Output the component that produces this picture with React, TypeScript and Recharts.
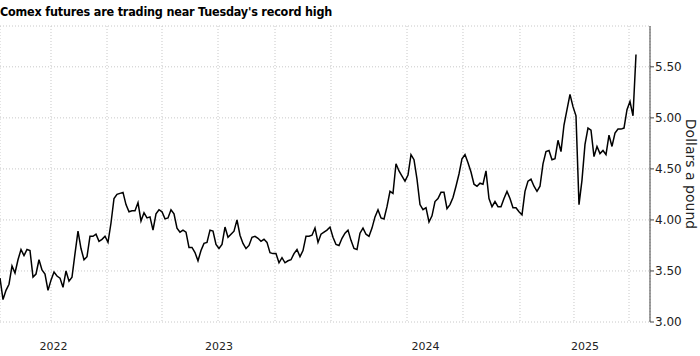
import React from 'react';
import { LineChart, Line, XAxis, YAxis, CartesianGrid } from 'recharts';

// Comex copper, dollars a pound, one reading per sample step
const prices = [
  3.43, 3.22, 3.31, 3.37, 3.55, 3.48, 3.61, 3.71, 3.65, 3.71, 3.70, 3.44, 3.47, 3.61, 3.51, 3.47,
  3.31, 3.41, 3.49, 3.45, 3.43, 3.34, 3.50, 3.40, 3.44, 3.67, 3.89, 3.72, 3.61, 3.64, 3.84, 3.84,
  3.86, 3.79, 3.81, 3.84, 3.78, 3.97, 4.21, 4.25, 4.26, 4.27, 4.15, 4.08, 4.09, 4.09, 4.17, 3.99,
  4.07, 4.02, 4.03, 3.90, 4.06, 4.10, 4.08, 4.01, 4.02, 4.10, 4.06, 3.92, 3.88, 3.90, 3.88, 3.73,
  3.73, 3.68, 3.60, 3.70, 3.77, 3.78, 3.90, 3.89, 3.76, 3.72, 3.76, 3.93, 3.83, 3.86, 3.89, 4.00,
  3.85, 3.77, 3.72, 3.75, 3.83, 3.84, 3.82, 3.79, 3.81, 3.78, 3.68, 3.67, 3.67, 3.58, 3.63, 3.58,
  3.60, 3.61, 3.67, 3.71, 3.64, 3.70, 3.84, 3.84, 3.85, 3.92, 3.78, 3.86, 3.88, 3.90, 3.93, 3.83,
  3.76, 3.75, 3.82, 3.87, 3.90, 3.80, 3.72, 3.71, 3.87, 3.92, 3.86, 3.84, 3.92, 4.03, 4.10, 4.02,
  4.01, 4.13, 4.28, 4.26, 4.55, 4.48, 4.43, 4.38, 4.44, 4.64, 4.59, 4.40, 4.15, 4.10, 4.12, 3.98,
  4.04, 4.18, 4.21, 4.27, 4.27, 4.11, 4.15, 4.22, 4.33, 4.45, 4.60, 4.64, 4.56, 4.47, 4.35, 4.33,
  4.36, 4.35, 4.48, 4.21, 4.13, 4.18, 4.13, 4.13, 4.21, 4.28, 4.21, 4.12, 4.12, 4.08, 4.05, 4.28,
  4.38, 4.40, 4.33, 4.28, 4.33, 4.55, 4.67, 4.68, 4.59, 4.60, 4.78, 4.67, 4.93, 5.08, 5.23, 5.11,
  5.02, 4.15, 4.39, 4.74, 4.90, 4.88, 4.62, 4.72, 4.65, 4.68, 4.64, 4.83, 4.72, 4.85, 4.89, 4.89,
  4.90, 5.08, 5.16, 5.02, 5.62,
];

// quarter starts (Oct 2022 .. Jul 2025) in sample units
const quarterStarts = [17, 35.67, 54, 72.67, 91.67, 110.33, 128, 135.67, 154.33, 173.33, 191.33, 209.67];
// Jan 2023, Jan 2024, Jan 2025
const yearStarts = [35.67, 110.33, 173.33];
const years = ['2022', '2023', '2024', '2025'];
const axisEnd = 216.67;

const yMajor = [3, 3.5, 4, 4.5, 5, 5.5];
const yMinor = [3.25, 3.75, 4.25, 4.75, 5.25, 5.75];

const data = prices.map((v, i) => ({ i, v }));

const bounds = [0, ...yearStarts, axisEnd];
const yearCenters = years.map((_, k) => (bounds[k] + bounds[k + 1]) / 2);

const font = '"DejaVu Sans", sans-serif';

export default function App() {
  return (
    <div style={{ position: 'absolute', left: 0, top: 0, width: 700, height: 356, background: '#fff', overflow: 'hidden' }}>
      <div
        style={{
          position: 'absolute',
          left: 0,
          top: 4,
          fontFamily: '"DejaVu Sans Condensed", sans-serif',
          fontWeight: 'bold',
          fontSize: 12.5,
          letterSpacing: -0.2,
          lineHeight: '16px',
          color: '#000',
          whiteSpace: 'nowrap',
        }}
      >
        Comex futures are trading near Tuesday's record high
      </div>
      <LineChart width={700} height={356} data={data} margin={{ top: 26, right: 0, bottom: 0, left: 0 }}>
        <CartesianGrid xAxisId="grid" yAxisId="main" stroke="#c8c8c8" strokeDasharray="1 2" />
        <XAxis xAxisId="grid" type="number" dataKey="i" domain={[0, axisEnd]} ticks={quarterStarts} height={0} hide />
        <XAxis
          xAxisId="main"
          type="number"
          dataKey="i"
          domain={[0, axisEnd]}
          ticks={yearCenters}
          interval={0}
          tickFormatter={(t: number) => years[yearCenters.indexOf(t)] ?? ''}
          axisLine={false}
          tickLine={false}
          tickSize={0}
          tickMargin={20}
          height={34}
          tick={{ fill: '#222', fontSize: 11, fontFamily: font }}
        />
        <YAxis
          yAxisId="minor"
          orientation="right"
          type="number"
          domain={[3, 5.9]}
          ticks={yMinor}
          interval={0}
          width={0}
          tick={false}
          axisLine={false}
          tickLine={{ stroke: '#444' }}
          tickSize={4}
        />
        <YAxis
          yAxisId="main"
          orientation="right"
          type="number"
          domain={[3, 5.9]}
          ticks={yMajor}
          interval={0}
          width={50}
          tickFormatter={(v: number) => v.toFixed(2)}
          axisLine={{ stroke: '#444' }}
          tickLine={{ stroke: '#444' }}
          tickSize={4}
          tickMargin={1}
          tick={{ fill: '#222', fontSize: 12, fontFamily: font }}
          label={{ value: 'Dollars a pound', angle: 90, position: 'center', dx: 16, fill: '#222', fontSize: 14, fontFamily: font }}
        />
        <Line
          xAxisId="main"
          yAxisId="main"
          type="linear"
          dataKey="v"
          stroke="#000"
          strokeWidth={1.5}
          dot={false}
          isAnimationActive={false}
        />
      </LineChart>
    </div>
  );
}
